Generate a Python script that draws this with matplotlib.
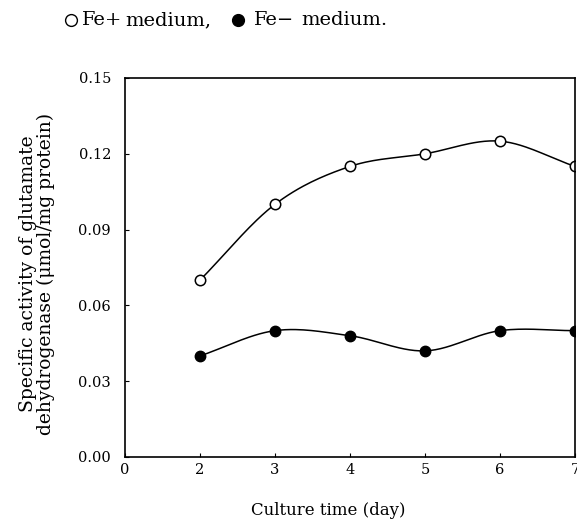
import numpy as np
import matplotlib.pyplot as plt
from matplotlib.lines import Line2D

plt.rcParams['font.family'] = ['DejaVu Serif', 'DejaVu Sans']

# data
days = [2, 3, 4, 5, 6, 7]
fe_plus = [0.070, 0.100, 0.115, 0.120, 0.125, 0.115]
fe_minus = [0.040, 0.050, 0.048, 0.042, 0.050, 0.050]
# the axis starts one day-step left of day 2 but is labelled 0
x_tick_pos = [1, 2, 3, 4, 5, 6, 7]
x_tick_labels = ['0', '2', '3', '4', '5', '6', '7']
y_ticks = [0.00, 0.03, 0.06, 0.09, 0.12, 0.15]


def smooth(x, y, n=30):
    # Catmull-Rom curve through the points, for drawing only
    x = np.asarray(x, float)
    y = np.asarray(y, float)
    px = np.concatenate([[2 * x[0] - x[1]], x, [2 * x[-1] - x[-2]]])
    py = np.concatenate([[2 * y[0] - y[1]], y, [2 * y[-1] - y[-2]]])
    xs, ys = [], []
    t = np.linspace(0, 1, n)
    for i in range(1, len(px) - 2):
        for p, out in ((px, xs), (py, ys)):
            p0, p1, p2, p3 = p[i - 1], p[i], p[i + 1], p[i + 2]
            out.append(0.5 * (2 * p1 + (-p0 + p2) * t
                              + (2 * p0 - 5 * p1 + 4 * p2 - p3) * t ** 2
                              + (-p0 + 3 * p1 - 3 * p2 + p3) * t ** 3))
    return np.concatenate(xs), np.concatenate(ys)


fig = plt.figure(figsize=(5.77, 5.23), dpi=100)
ax = fig.add_axes([0.2166, 0.1262, 0.78, 0.7247])

sx, sy = smooth(days, fe_plus)
ax.plot(sx, sy, color='black', lw=1.1)
ax.plot(days, fe_plus, 'o', ms=7.5, mfc='white', mec='black', mew=1.1)

sx, sy = smooth(days, fe_minus)
ax.plot(sx, sy, color='black', lw=1.1)
ax.plot(days, fe_minus, 'o', ms=7.5, mfc='black', mec='black')

ax.set_xlim(1, 7)
ax.set_ylim(0, 0.15)
ax.set_xticks(x_tick_pos)
ax.set_xticklabels(x_tick_labels)
ax.set_yticks(y_ticks)
ax.set_yticklabels([f'{v:.2f}' for v in y_ticks])
ax.tick_params(direction='in', length=3, labelsize=10.5)
ax.tick_params(axis='x', pad=4)
ax.tick_params(axis='y', pad=10)
for s in ax.spines.values():
    s.set_linewidth(1.2)

ax.set_xlabel('Culture time (day)', fontsize=12)
ax.xaxis.set_label_coords(0.451, -0.12)
ax.set_ylabel('Specific activity of glutamate\ndehydrogenase (\u03bcmol/mg protein)',
              fontsize=13.5, linespacing=1.0)
ax.yaxis.set_label_coords(-0.156, 0.483)

# key line above the plot
ky = 0.962
fig.add_artist(Line2D([0.123], [ky], marker='o', ms=8.5, mfc='white',
                      mec='black', mew=1.0, transform=fig.transFigure))
fig.text(0.142, ky, 'Fe+', fontsize=14, va='center')
fig.text(0.218, ky, 'medium,', fontsize=14, va='center')
fig.add_artist(Line2D([0.412], [ky], marker='o', ms=8.5, mfc='black',
                      mec='black', transform=fig.transFigure))
fig.text(0.440, ky, 'Fe\u2212', fontsize=14, va='center')
fig.text(0.523, ky, 'medium.', fontsize=14, va='center')

fig.savefig('out.png', dpi=100)
